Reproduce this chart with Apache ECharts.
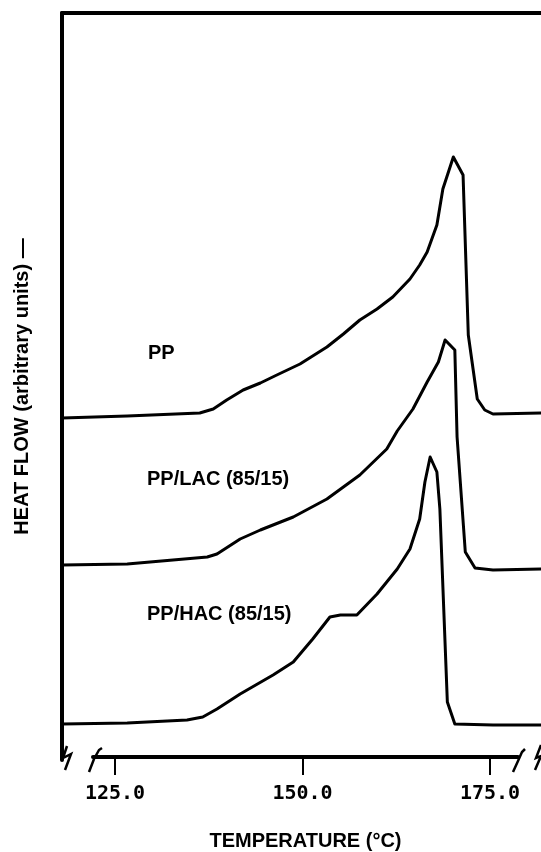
<!DOCTYPE html>
<html>
<head>
<meta charset="utf-8">
<script src="https://cdn.jsdelivr.net/npm/echarts@6/dist/echarts.min.js"></script>
<style>
html,body{margin:0;padding:0;background:#fff;}
#chart{width:541px;height:852px;}
</style>
</head>
<body>
<div id="chart"></div>
<script>
// ---- data (temperature in °C, heat flow in arbitrary units) ----
const seriesNames = ['PP', 'PP/LAC (85/15)', 'PP/HAC (85/15)'];

const ppTemp = [117.8,126.5,136.2,138.0,139.8,142.0,144.3,146.5,149.6,153.2,155.4,157.6,159.9,162.0,164.3,165.6,166.6,167.9,168.7,170.1,171.4,172.1,173.3,174.3,175.4,181.8];
const ppHeat = [34.2,34.4,34.7,35.1,36.0,37.0,37.7,38.5,39.6,41.3,42.6,44.0,45.1,46.3,48.1,49.5,50.8,53.5,57.1,60.3,58.5,42.5,36.1,35.0,34.6,34.7];

const lacTemp = [117.8,126.5,137.2,138.5,141.6,144.3,148.7,153.2,157.6,161.2,162.6,164.7,166.6,168.1,169.0,170.3,170.6,171.7,173.0,175.4,181.8];
const lacHeat = [19.5,19.6,20.3,20.6,22.1,23.0,24.3,26.1,28.5,31.1,32.9,35.1,37.8,39.8,42.0,41.0,32.3,20.8,19.2,19.0,19.1];

const hacTemp = [117.8,126.5,134.5,136.6,138.5,141.6,146.0,148.7,151.3,153.6,155.0,157.2,159.9,162.6,164.3,165.6,166.3,167.0,167.9,168.3,169.3,170.3,175.4,181.8];
const hacHeat = [3.6,3.7,4.0,4.3,5.1,6.6,8.5,9.8,12.1,14.3,14.5,14.5,16.6,19.1,21.1,24.1,27.8,30.3,28.8,25.1,5.8,3.6,3.5,3.5];

const tickValues = [125, 150, 175];
const tickLabels = ['125.0', '150.0', '175.0'];

const xTitle = 'TEMPERATURE (°C)';
const yTitle = 'HEAT FLOW (arbitrary units) —';

// ---- build ----
function pairs(xs, ys) { return xs.map((x, i) => [x, ys[i]]); }

const chart = echarts.init(document.getElementById('chart'), null, {renderer: 'canvas'});
const lineStyle = {color: '#000', width: 3, join: 'round', cap: 'round'};
const labelFont = {fontFamily: 'Liberation Sans', fontWeight: 'bold', fontSize: 20, fill: '#000'};
const lineCommon = {type: 'line', xAxisIndex: 0, yAxisIndex: 0, showSymbol: false, smooth: false, lineStyle: lineStyle};

const option = {
  backgroundColor: '#fff',
  animation: false,
  grid: [
    {left: 62, right: 0, top: 13, height: 747},
    {left: 93, right: 23, top: 700, height: 60}
  ],
  xAxis: [
    {
      gridIndex: 0, type: 'value', position: 'top', min: 117.78, max: 181.82,
      axisLine: {show: true, onZero: false, lineStyle: {color: '#000', width: 4}},
      axisTick: {show: false}, axisLabel: {show: false}, splitLine: {show: false}
    },
    {
      gridIndex: 1, type: 'value', position: 'bottom', min: 122.07, max: 178.73,
      axisLine: {show: true, onZero: false, lineStyle: {color: '#000', width: 4}},
      axisTick: {show: true, customValues: tickValues, length: 18, lineStyle: {color: '#000', width: 2}},
      axisLabel: {
        show: true, customValues: tickValues, margin: 27,
        fontFamily: 'DejaVu Sans Mono', fontWeight: 'bold', fontSize: 20, color: '#000',
        formatter: v => tickLabels[tickValues.indexOf(v)]
      },
      splitLine: {show: false},
      name: xTitle, nameLocation: 'middle', nameGap: 74,
      nameTextStyle: {fontFamily: 'Liberation Sans', fontWeight: 'bold', fontSize: 20, color: '#000'}
    }
  ],
  yAxis: [
    {
      gridIndex: 0, type: 'value', min: 0, max: 74.7,
      axisLine: {show: true, onZero: false, lineStyle: {color: '#000', width: 4}},
      axisTick: {show: false}, axisLabel: {show: false}, splitLine: {show: false},
      name: yTitle, nameLocation: 'middle', nameRotate: 90, nameGap: 30,
      nameTextStyle: {fontFamily: 'Liberation Sans', fontWeight: 'bold', fontSize: 20, color: '#000'}
    },
    {
      gridIndex: 1, type: 'value', show: false
    }
  ],
  series: [
    Object.assign({name: seriesNames[0], data: pairs(ppTemp, ppHeat)}, lineCommon),
    Object.assign({name: seriesNames[1], data: pairs(lacTemp, lacHeat)}, lineCommon),
    Object.assign({name: seriesNames[2], data: pairs(hacTemp, hacHeat)}, lineCommon)
  ],
  graphic: [
    {type: 'text', left: 148, top: 343, style: Object.assign({text: seriesNames[0]}, labelFont)},
    {type: 'text', left: 147, top: 469, style: Object.assign({text: seriesNames[1]}, labelFont)},
    {type: 'text', left: 147, top: 604, style: Object.assign({text: seriesNames[2]}, labelFont)},
    // axis break marks
    {type: 'polyline', shape: {points: [[67,746],[63,758],[71,754],[65,770]]}, style: {stroke: '#000', lineWidth: 2.5, fill: null}},
    {type: 'polyline', shape: {points: [[89,772],[94,759],[99,750],[102,748]]}, style: {stroke: '#000', lineWidth: 2.5, fill: null}},
    {type: 'polyline', shape: {points: [[513,772],[518,761],[522,752],[525,749]]}, style: {stroke: '#000', lineWidth: 2.5, fill: null}},
    {type: 'polyline', shape: {points: [[541,745],[536,758],[541,756],[535,770]]}, style: {stroke: '#000', lineWidth: 2.5, fill: null}}
  ]
};
chart.setOption(option);
</script>
</body>
</html>
